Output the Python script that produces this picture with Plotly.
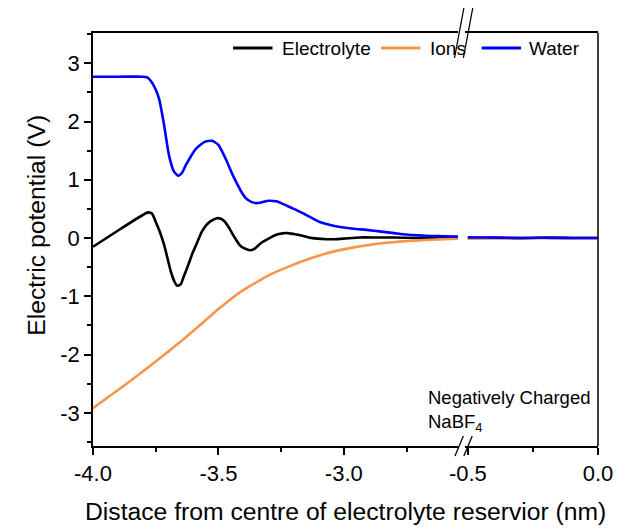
import plotly.graph_objects as go

# ---------------- data ----------------
# left segment (x in nm)
water_x = [-4.00, -3.90, -3.80, -3.785, -3.77, -3.75, -3.736, -3.717, -3.697, -3.677, -3.66, -3.645,
           -3.63, -3.59, -3.555, -3.526, -3.50, -3.487, -3.468, -3.448, -3.428, -3.408, -3.39, -3.369,
           -3.35, -3.33, -3.30, -3.27, -3.25, -3.21, -3.17, -3.13, -3.093, -3.05, -3.015, -2.96, -2.91,
           -2.85, -2.80, -2.75, -2.70, -2.65, -2.60, -2.545]
water_y = [2.77, 2.77, 2.77, 2.76, 2.70, 2.55, 2.38, 1.95, 1.42, 1.14, 1.07, 1.12,
           1.25, 1.53, 1.65, 1.67, 1.60, 1.50, 1.33, 1.13, 0.95, 0.79, 0.68, 0.62,
           0.60, 0.61, 0.64, 0.63, 0.60, 0.52, 0.44, 0.35, 0.27, 0.22, 0.19, 0.16, 0.14,
           0.11, 0.085, 0.06, 0.045, 0.035, 0.03, 0.025]

elec_x = [-4.00, -3.90, -3.80, -3.78, -3.765, -3.75, -3.733, -3.717, -3.70, -3.69, -3.675, -3.664,
          -3.65, -3.64, -3.62, -3.605, -3.585, -3.566, -3.54, -3.507, -3.49, -3.474, -3.454, -3.434,
          -3.415, -3.40, -3.375, -3.355, -3.33, -3.30, -3.27, -3.245, -3.224, -3.20, -3.17, -3.14,
          -3.106, -3.07, -3.04, -3.00, -2.936, -2.87, -2.80, -2.72, -2.65, -2.60, -2.545]
elec_y = [-0.15, 0.13, 0.40, 0.44, 0.42, 0.28, 0.10, -0.11, -0.40, -0.57, -0.75, -0.82,
          -0.79, -0.68, -0.46, -0.28, -0.08, 0.11, 0.26, 0.34, 0.33, 0.28, 0.15, 0.0,
          -0.12, -0.17, -0.21, -0.18, -0.085, -0.01, 0.056, 0.08, 0.085, 0.07, 0.045, 0.01,
          -0.01, -0.02, -0.02, -0.01, 0.01, 0.01, 0.01, 0.0, 0.0, 0.0, 0.0]

ions_x = [-4.00, -3.92, -3.85, -3.78, -3.70, -3.64, -3.58, -3.54, -3.50, -3.46, -3.42, -3.38,
          -3.34, -3.29, -3.22, -3.16, -3.09, -3.03, -2.96, -2.90, -2.83, -2.78, -2.70, -2.65,
          -2.58, -2.545]
ions_y = [-2.92, -2.67, -2.45, -2.22, -1.95, -1.74, -1.52, -1.37, -1.22, -1.08, -0.95, -0.84,
          -0.74, -0.62, -0.49, -0.39, -0.29, -0.22, -0.16, -0.118, -0.082, -0.062, -0.04, -0.029,
          -0.017, -0.012]

# right segment (x in nm)
right_x = [-0.5, -0.45, -0.4, -0.35, -0.3, -0.25, -0.2, -0.15, -0.1, -0.05, 0.0]
elec_right_y = [0.0, 0.0, 0.005, 0.0, -0.005, 0.0, 0.01, 0.005, 0.0, 0.0, 0.0]
ions_right_y = [-0.01, -0.008, -0.006, -0.005, -0.004, -0.003, -0.002, -0.002, -0.001, 0.0, 0.0]
water_right_y = [0.012, 0.01, 0.008, 0.006, 0.005, 0.004, 0.004, 0.003, 0.002, 0.001, 0.0]

series_names = ["Electrolyte", "Ions", "Water"]
colors = ["#000000", "#F7964A", "#0000FF"]

left_ticks = [-4.0, -3.5, -3.0]
left_ticktext = ["-4.0", "-3.5", "-3.0"]
right_ticks = [-0.5, 0.0]
right_ticktext = ["-0.5", "0.0"]
y_ticks = [-3, -2, -1, 0, 1, 2, 3]
y_ticktext = ["-3", "-2", "-1", "0", "1", "2", "3"]

# ---------------- layout geometry ----------------
W, H = 625, 531
L, R, T, B = 93, 20, 33, 85
PW, PH = W - L - R, H - T - B


def px(xp):
    return (xp - L) / PW


def py(yp):
    return (H - B - yp) / PH


FONT = "Liberation Sans, Arial, sans-serif"

fig = go.Figure()
left_sets = [(elec_x, elec_y), (ions_x, ions_y), (water_x, water_y)]
right_sets = [elec_right_y, ions_right_y, water_right_y]
for name, col, (xs, ys) in zip(series_names, colors, left_sets):
    fig.add_trace(go.Scatter(x=xs, y=ys, mode="lines", name=name, legendgroup=name,
                             showlegend=False,
                             line=dict(color=col, width=2.6, shape="spline", smoothing=0.6),
                             xaxis="x", yaxis="y"))
for name, col, ys in zip(series_names, colors, right_sets):
    fig.add_trace(go.Scatter(x=right_x, y=ys, mode="lines", name=name, legendgroup=name,
                             showlegend=False,
                             line=dict(color=col, width=2.6, shape="spline", smoothing=0.6),
                             xaxis="x2", yaxis="y"))

axis_common = dict(showline=True, linecolor="black", linewidth=1.5, ticks="outside",
                   ticklen=7, tickwidth=1.5, tickcolor="black", showgrid=False, zeroline=False,
                   tickfont=dict(family=FONT, size=22, color="black"))

fig.update_layout(
    width=W, height=H, margin=dict(l=L, r=R, t=T, b=B),
    paper_bgcolor="white", plot_bgcolor="white",
    font=dict(family=FONT, color="black"),
    showlegend=False,
    xaxis=dict(domain=[0, px(463)], range=[-4.0, -2.545], tickvals=left_ticks,
               ticktext=left_ticktext, mirror=True, anchor="y",
               minor=dict(dtick=0.25, tick0=-4.0, ticks="outside", ticklen=4,
                          tickwidth=1.5, tickcolor="black", showgrid=False),
               **axis_common),
    xaxis2=dict(domain=[px(470), 1], range=[-0.5115, 0.0], tickvals=right_ticks,
                ticktext=right_ticktext, mirror=True, anchor="y",
                minor=dict(dtick=0.25, tick0=0.0, ticks="outside", ticklen=4,
                           tickwidth=1.5, tickcolor="black", showgrid=False),
                **axis_common),
    yaxis=dict(range=[-3.57, 3.52], tickvals=y_ticks, ticktext=y_ticktext, anchor="x",
               minor=dict(dtick=0.5, tick0=0, ticks="outside", ticklen=4,
                          tickwidth=1.5, tickcolor="black", showgrid=False),
               **axis_common),
)

# axis titles
fig.add_annotation(text="Distace from centre of electrolyte reservior (nm)", xref="paper", yref="paper",
                   x=px(349.5), y=py(512), xanchor="center", yanchor="middle", showarrow=False,
                   font=dict(family=FONT, size=24.7, color="black"))
fig.add_annotation(text="Electric potential (V)", xref="paper", yref="paper", textangle=-90,
                   x=px(35), y=py(225), xanchor="center", yanchor="middle", showarrow=False,
                   font=dict(family=FONT, size=24.7, color="black"))

# legend (drawn manually to match the sample lengths)
leg_y = 48
leg_items = [(235, 275, 283), (385, 425, 433), (487, 527, 533)]
for name, col, (l0, l1, tx) in zip(series_names, colors, leg_items):
    fig.add_shape(type="line", xref="paper", yref="paper", x0=px(l0), x1=px(l1),
                  y0=py(leg_y), y1=py(leg_y), line=dict(color=col, width=2.8))
    fig.add_annotation(text=name, xref="paper", yref="paper", x=px(tx), y=py(leg_y),
                       xanchor="left", yanchor="middle", showarrow=False,
                       font=dict(family=FONT, size=19, color="black"))

# label
fig.add_annotation(text="Negatively Charged<br>NaBF<sub>4</sub>", xref="paper", yref="paper",
                   x=px(431), y=py(385), xanchor="left", yanchor="top", align="left", showarrow=False,
                   font=dict(family=FONT, size=18.5, color="black"))

# right frame line
fig.add_shape(type="line", xref="paper", yref="paper", x0=1, x1=1, y0=0, y1=1,
              line=dict(color="black", width=1.5))
# axis break marks
for (x0, y0, x1, y1) in [(459.5, 58, 469, 8), (468.5, 58, 478, 8),
                         (460, 456, 468.5, 436), (469, 456, 477.5, 436)]:
    fig.add_shape(type="line", xref="paper", yref="paper", x0=px(x0), y0=py(y0), x1=px(x1), y1=py(y1),
                  line=dict(color="black", width=1.3))

fig.write_html("out.html")
